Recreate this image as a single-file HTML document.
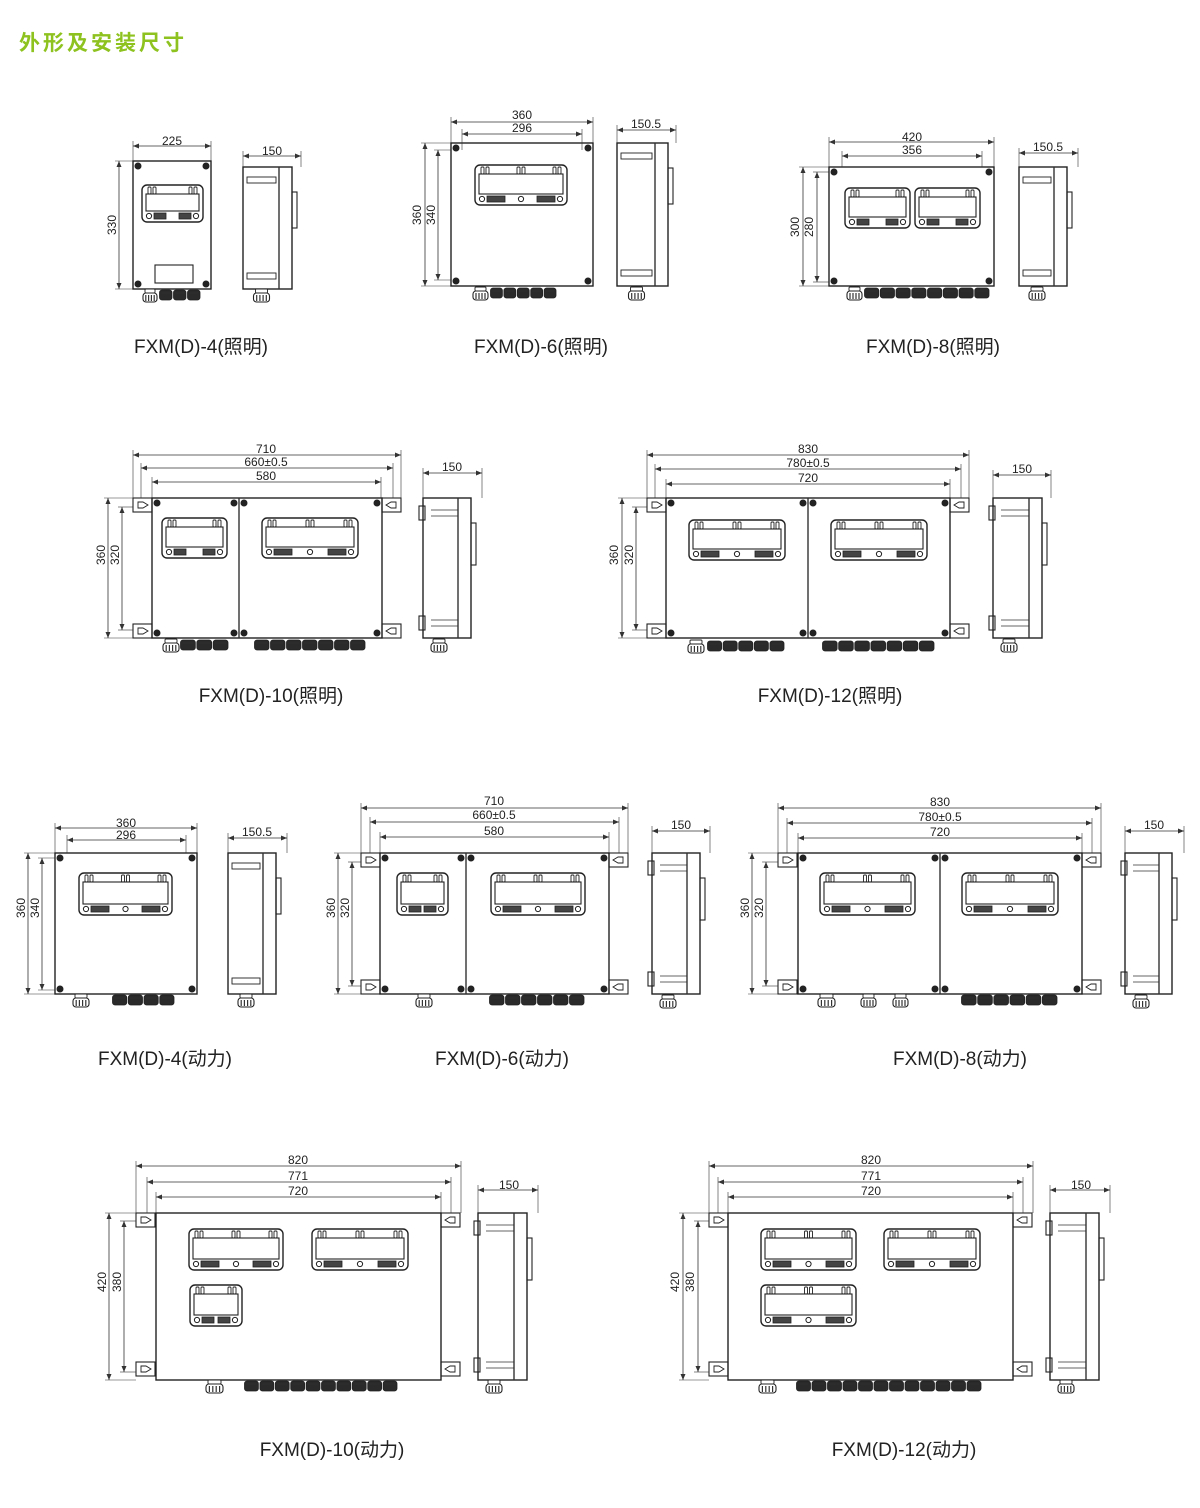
<!DOCTYPE html>
<html><head><meta charset="utf-8">
<style>
html,body{margin:0;padding:0;background:#fff;}
#wrap{position:relative;width:1200px;height:1508px;overflow:hidden;}
svg{position:absolute;left:0;top:0;}
text{font-family:"Liberation Sans","Noto Sans CJK SC",sans-serif;fill:#222;}
.d{font-size:12px;text-anchor:middle;}
.lb{font-size:19px;text-anchor:middle;}
.t{font-size:21px;font-weight:bold;fill:#8dc21f;font-family:"Liberation Sans","Noto Sans CJK SC",sans-serif;}
</style></head><body><div id="wrap">
<svg id="g" width="1200" height="1508" viewBox="0 0 1200 1508"></svg>
<svg width="1200" height="1508" viewBox="0 0 1200 1508">
<text class="t" x="19" y="50" style="letter-spacing:3px">外形及安装尺寸</text>
<text class="lb" x="201" y="353">FXM(D)-4(照明)</text>
<text class="lb" x="541" y="353">FXM(D)-6(照明)</text>
<text class="lb" x="933" y="353">FXM(D)-8(照明)</text>
<text class="lb" x="271" y="702">FXM(D)-10(照明)</text>
<text class="lb" x="830" y="702">FXM(D)-12(照明)</text>
<text class="lb" x="165" y="1065">FXM(D)-4(动力)</text>
<text class="lb" x="502" y="1065">FXM(D)-6(动力)</text>
<text class="lb" x="960" y="1065">FXM(D)-8(动力)</text>
<text class="lb" x="332" y="1456">FXM(D)-10(动力)</text>
<text class="lb" x="904" y="1456">FXM(D)-12(动力)</text>
<text class="d" x="172" y="145">225</text>
<text class="d" x="272" y="155">150</text>
<text class="d" transform="translate(116,225) rotate(-90)">330</text>
<text class="d" x="522" y="119">360</text>
<text class="d" x="522" y="132">296</text>
<text class="d" x="646" y="128">150.5</text>
<text class="d" transform="translate(421,215) rotate(-90)">360</text>
<text class="d" transform="translate(435,215) rotate(-90)">340</text>
<text class="d" x="912" y="141">420</text>
<text class="d" x="912" y="154">356</text>
<text class="d" x="1048" y="151">150.5</text>
<text class="d" transform="translate(799,227) rotate(-90)">300</text>
<text class="d" transform="translate(813,227) rotate(-90)">280</text>
<text class="d" x="266" y="453">710</text>
<text class="d" x="266" y="466">660±0.5</text>
<text class="d" x="266" y="480">580</text>
<text class="d" x="452" y="471">150</text>
<text class="d" transform="translate(105,555) rotate(-90)">360</text>
<text class="d" transform="translate(119,555) rotate(-90)">320</text>
<text class="d" x="808" y="453">830</text>
<text class="d" x="808" y="467">780±0.5</text>
<text class="d" x="808" y="482">720</text>
<text class="d" x="1022" y="473">150</text>
<text class="d" transform="translate(618,555) rotate(-90)">360</text>
<text class="d" transform="translate(633,555) rotate(-90)">320</text>
<text class="d" x="126" y="827">360</text>
<text class="d" x="126" y="839">296</text>
<text class="d" x="257" y="836">150.5</text>
<text class="d" transform="translate(25,908) rotate(-90)">360</text>
<text class="d" transform="translate(39,908) rotate(-90)">340</text>
<text class="d" x="494" y="805">710</text>
<text class="d" x="494" y="819">660±0.5</text>
<text class="d" x="494" y="835">580</text>
<text class="d" x="681" y="829">150</text>
<text class="d" transform="translate(335,908) rotate(-90)">360</text>
<text class="d" transform="translate(349,908) rotate(-90)">320</text>
<text class="d" x="940" y="806">830</text>
<text class="d" x="940" y="821">780±0.5</text>
<text class="d" x="940" y="836">720</text>
<text class="d" x="1154" y="829">150</text>
<text class="d" transform="translate(749,908) rotate(-90)">360</text>
<text class="d" transform="translate(763,908) rotate(-90)">320</text>
<text class="d" x="298" y="1164">820</text>
<text class="d" x="298" y="1180">771</text>
<text class="d" x="298" y="1195">720</text>
<text class="d" x="509" y="1189">150</text>
<text class="d" transform="translate(106,1282) rotate(-90)">420</text>
<text class="d" transform="translate(121,1282) rotate(-90)">380</text>
<text class="d" x="871" y="1164">820</text>
<text class="d" x="871" y="1180">771</text>
<text class="d" x="871" y="1195">720</text>
<text class="d" x="1081" y="1189">150</text>
<text class="d" transform="translate(679,1282) rotate(-90)">420</text>
<text class="d" transform="translate(694,1282) rotate(-90)">380</text>
</svg>
</div>
<script>
var o=[];
function L(x1,y1,x2,y2,w){o.push('<line x1="'+x1+'" y1="'+y1+'" x2="'+x2+'" y2="'+y2+'" stroke="#333" stroke-width="'+(w||0.8)+'"/>');}
function R(x,y,w,h,sw,rx,fill){o.push('<rect x="'+x+'" y="'+y+'" width="'+w+'" height="'+h+'" rx="'+(rx||0)+'" stroke="#222" stroke-width="'+(sw||1.4)+'" fill="'+(fill||'none')+'"/>');}
function C(x,y,r,f){o.push('<circle cx="'+x+'" cy="'+y+'" r="'+r+'" fill="'+(f||'#222')+'" stroke="#222" stroke-width="1"/>');}
function arrH(x,y,d){o.push('<path d="M'+x+' '+y+' l'+(6*d)+' -2.5 l0 5z" fill="#333"/>');}
function arrV(x,y,d){o.push('<path d="M'+x+' '+y+' l-2.5 '+(6*d)+' l5 0z" fill="#333"/>');}
function hdim(x1,x2,y,eb){L(x1,y,x2,y);arrH(x1,y,1);arrH(x2,y,-1);L(x1,y-5,x1,eb,0.6);L(x2,y-5,x2,eb,0.6);}
function vdim(x,y1,y2,er){L(x,y1,x,y2);arrV(x,y1,1);arrV(x,y2,-1);L(x-4,y1,er,y1,0.6);L(x-4,y2,er,y2,0.6);}
function screws(x,y,w,h){C(x+5,y+5,3);C(x+w-5,y+5,3);C(x+5,y+h-5,3);C(x+w-5,y+h-5,3);}
function win(x,y,w,h){
 R(x,y,w,h,1.4,5);R(x+4,y+9,w-8,h-20,1.1);
 var n=w>70?3:2;
 for(var i=0;i<n;i++){var cx=x+10+i*(w-20)/(n-1);R(cx-4,y+2,3,7,0.9,1);R(cx+1,y+2,3,7,0.9,1);}
 var by=y+h-6;
 C(x+7,by,2.6,'#fff');C(x+w-7,by,2.6,'#fff');if(n==3)C(x+w/2,by,2.6,'#fff');
 R(x+12,by-3,w>70?18:12,6,0.8,0,'#444');R(x+w-(w>70?30:24),by-3,w>70?18:12,6,0.8,0,'#444');
}
function dg(x,y,w){R(x,y,w,10,0.8,2.5,'#2a2a2a');L(x+2,y+3,x+w-2,y+3,0.6);}
function wg(x,y,w){w=w||16;R(x+2,y,w-4,4,0.9,1,'#fff');R(x,y+4,w,9,1.1,3,'#fff');for(var i=1;i<5;i++)L(x+i*w/5,y+6,x+i*w/5,y+12,1.2);}
function dgs(x1,x2,y,n){var w=(x2-x1)/n;for(var i=0;i<n;i++)dg(x1+i*w+0.5,y,w-1.5);}
function ear(x,y,d){R(x,y,19,14,1.1);o.push('<path d="M'+(x+(d>0?15:4))+' '+(y+7)+' l'+(-5*d)+' -3 l'+(-5*d)+' 0 l0 6 l'+(5*d)+' 0z" fill="none" stroke="#222" stroke-width="0.9"/>');}
function side(x,y,w,h,gy){
 R(x,y,w,h,1.4);L(x+w-13,y,x+w-13,y+h,1.4);
 R(x+4,y+10,w-20,6,0.9);R(x+4,y+h-16,w-20,6,0.9);
 R(x+w,y+25,5,36,1.1);
 wg(x+w/2-14,gy,16);
}
function side2(x,y,w,h,gy){
 R(x,y,w,h,1.4);L(x+w-13,y,x+w-13,y+h,1.4);
 L(x+8,y+12,x+w-13,y+12,0.8);L(x+8,y+18,x+w-13,y+18,0.8);
 L(x+8,y+h-12,x+w-13,y+h-12,0.8);L(x+8,y+h-18,x+w-13,y+h-18,0.8);
 R(x-4,y+8,6,14,1.1);R(x-4,y+h-22,6,14,1.1);
 R(x+w,y+25,5,42,1.1);
 wg(x+8,gy,16);
}
R(133,161,78,128);screws(133,161,78,128);win(142,185,61,37);R(155,265,38,18,1.1);
hdim(133,211,146,161);vdim(119,161,289,133);
wg(143,289,14);dgs(159,201,290,3);
side(243,167,49,122,289);hdim(243,301,156,167);
R(451,143,142,143);screws(451,143,142,143);win(475,165,92,40);
hdim(451,593,122,143);hdim(462,582,134,150);vdim(425,143,286,451);vdim(438,150,280,451);
wg(473,287,15);dgs(490,557,288,5);
side(617,143,51,143,287);hdim(617,676,130,143);
R(829,167,165,119);screws(829,167,165,119);win(845,188,65,40);win(915,188,65,40);
hdim(829,994,142,167);hdim(842,982,156,167);vdim(803,167,286,829);vdim(817,172,282,829);
wg(847,287,15);dgs(864,990,288,8);
side(1019,167,48,119,287);hdim(1019,1078,153,167);
R(152,498,230,140);L(239,498,239,638,1.4);screws(152,498,87,140);screws(239,498,143,140);
ear(133,498,1);ear(133,624,1);ear(382,498,-1);ear(382,624,-1);
win(162,518,65,40);win(262,518,96,40);
hdim(133,401,455,498);hdim(141,393,468,498);hdim(152,381,482,498);
vdim(108,498,638,133);vdim(122,507,630,133);
wg(163,639,16);dgs(180,229,640,3);dgs(254,366,640,7);
side2(423,498,48,140,639);hdim(423,482,473,498);
R(666,498,284,140);L(808,498,808,638,1.4);screws(666,498,142,140);screws(808,498,142,140);
ear(647,498,1);ear(647,624,1);ear(950,498,-1);ear(950,624,-1);
win(689,520,96,40);win(831,520,96,40);
hdim(647,969,455,498);hdim(655,961,469,498);hdim(666,950,484,498);
vdim(622,498,638,647);vdim(636,507,630,647);
wg(688,640,16);dgs(707,785,641,5);dgs(822,935,641,7);
side2(993,498,49,140,639);hdim(993,1051,475,498);
R(55,853,142,141);screws(55,853,142,141);win(79,873,93,42);
hdim(55,197,828,853);hdim(67,186,840,853);vdim(28,853,994,55);vdim(42,858,990,55);
wg(73,994,16);dgs(112,175,995,4);
side(228,853,48,141,994);hdim(228,287,838,853);
R(380,853,229,141);L(466,853,466,994,1.4);screws(380,853,86,141);screws(466,853,143,141);
ear(361,853,1);ear(361,980,1);ear(609,853,-1);ear(609,980,-1);
win(397,873,51,42);win(491,873,94,42);
hdim(361,628,808,853);hdim(370,619,822,853);hdim(380,609,837,853);
vdim(338,853,994,361);vdim(352,862,986,361);
wg(416,994,16);dgs(489,585,995,6);
side2(652,853,48,141,995);hdim(652,710,831,853);
R(798,853,284,141);L(940,853,940,994,1.4);screws(798,853,142,141);screws(940,853,142,141);
ear(778,853,1);ear(778,980,1);ear(1082,853,-1);ear(1082,980,-1);
win(820,873,95,42);win(962,873,96,42);
hdim(778,1101,808,853);hdim(787,1092,823,853);hdim(798,1082,838,853);
vdim(752,853,994,778);vdim(766,862,986,778);
wg(818,994,17);wg(861,994,15);wg(893,994,15);dgs(961,1058,995,6);
side2(1125,853,47,141,995);hdim(1125,1184,831,853);
R(156,1213,285,167);
ear(136,1213,1);ear(136,1362,1);ear(441,1213,-1);ear(441,1362,-1);
win(189,1229,94,41);win(312,1229,96,41);win(190,1285,52,41);
hdim(136,461,1166,1213);hdim(147,451,1182,1213);hdim(156,441,1197,1213);
vdim(109,1213,1380,136);vdim(124,1221,1372,136);
wg(206,1380,17);dgs(244,398,1381,10);
side2(478,1213,49,167,1380);hdim(478,538,1190,1213);
R(728,1213,285,167);
ear(709,1213,1);ear(709,1362,1);ear(1013,1213,-1);ear(1013,1362,-1);
win(761,1229,95,41);win(884,1229,96,41);win(761,1285,95,41);
hdim(709,1033,1166,1213);hdim(718,1023,1182,1213);hdim(728,1013,1197,1213);
vdim(683,1213,1380,709);vdim(698,1221,1372,709);
wg(759,1380,17);dgs(796,982,1381,12);
side2(1050,1213,49,167,1380);hdim(1050,1110,1190,1213);
document.getElementById('g').innerHTML=o.join('');
</script>
</body></html>
